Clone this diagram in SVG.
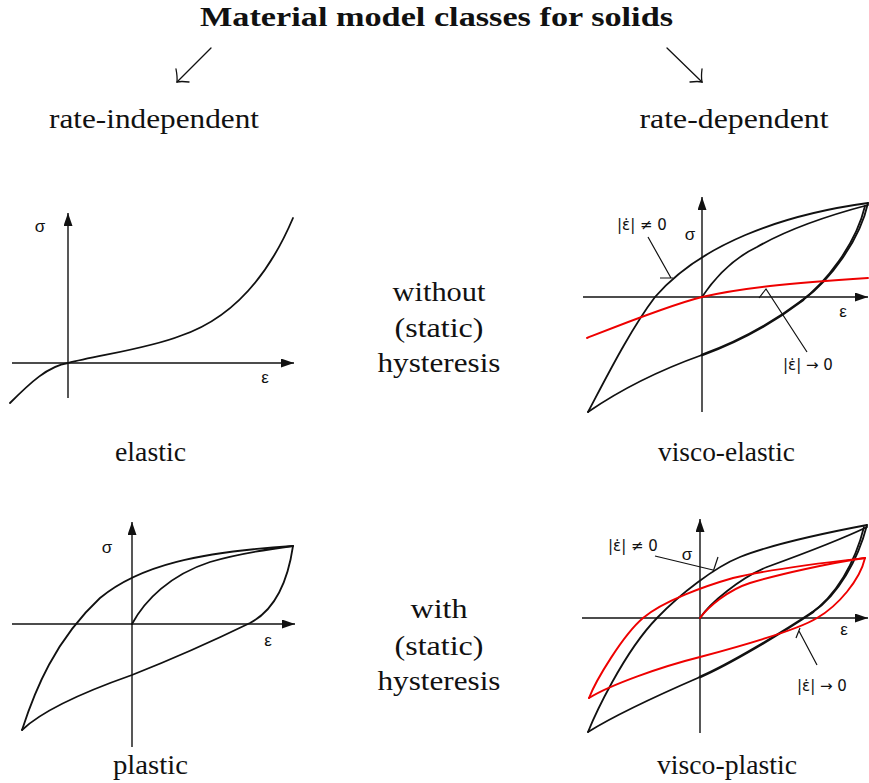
<svg xmlns="http://www.w3.org/2000/svg" width="869" height="783" viewBox="0 0 869 783">
<style>
.t{font-family:"Liberation Serif","Times New Roman",serif;font-size:27px;fill:#111;text-anchor:middle}
.tt{font-family:"Liberation Serif","Times New Roman",serif;font-size:27px;font-weight:bold;fill:#111}
.g{font-family:"Liberation Sans","DejaVu Sans",Arial,sans-serif;font-size:17px;fill:#111}
.gl{font-family:"DejaVu Sans","Liberation Sans",sans-serif;font-size:15px;fill:#111}
.ax{stroke:#111;stroke-width:1.4;fill:none}
.c{stroke:#111;stroke-width:1.8;fill:none;stroke-linejoin:round;stroke-linecap:round}
.ct{stroke:#111;stroke-width:2.6;fill:none;stroke-linecap:round}
.r{stroke:#ee0000;stroke-width:1.9;fill:none;stroke-linejoin:round;stroke-linecap:round}
.ld{stroke:#111;stroke-width:1.2;fill:none}
.ar{stroke:#111;stroke-width:1.3;fill:none;stroke-linecap:round}
</style>
<defs>
<marker id="ah" markerWidth="13" markerHeight="10" refX="13" refY="4.5" orient="auto" markerUnits="userSpaceOnUse">
<path d="M0,0 L13,4.5 L0,9 z" fill="#111"/>
</marker>
</defs>

<g id="title"><text class="tt" x="200" y="26" textLength="473" lengthAdjust="spacingAndGlyphs">Material model classes for solids</text></g>

<g id="connectors">
<path class="ar" d="M211,48 L177,82"/>
<path class="ar" d="M176,69 Q177.5,77 177,82 Q181,81 189,82"/>
<path class="ar" d="M667,48 L702,82"/>
<path class="ar" d="M702,69 Q701,77 702,82 Q698,81 690,82"/>
</g>

<g id="rate-independent"><text class="t" x="154" y="128" textLength="210" lengthAdjust="spacingAndGlyphs">rate-independent</text></g>
<g id="rate-dependent"><text class="t" x="734" y="128" textLength="189" lengthAdjust="spacingAndGlyphs">rate-dependent</text></g>

<g id="without">
<text class="t" x="439" y="301" textLength="93" lengthAdjust="spacingAndGlyphs">without</text>
<text class="t" x="439" y="337" textLength="89" lengthAdjust="spacingAndGlyphs">(static)</text>
<text class="t" x="439" y="372" textLength="123" lengthAdjust="spacingAndGlyphs">hysteresis</text>
</g>
<g id="with">
<text class="t" x="439" y="618" textLength="57" lengthAdjust="spacingAndGlyphs">with</text>
<text class="t" x="439" y="655" textLength="89" lengthAdjust="spacingAndGlyphs">(static)</text>
<text class="t" x="439" y="690" textLength="123" lengthAdjust="spacingAndGlyphs">hysteresis</text>
</g>

<g id="elastic">
<path class="ax" d="M68,398 L68,213" marker-end="url(#ah)"/>
<path class="ax" d="M12,363 L294,363" marker-end="url(#ah)"/>
<text class="g" x="40" y="232" text-anchor="middle">σ</text>
<text class="g" x="265" y="383" text-anchor="middle">ε</text>
<path class="c" d="M10,403 C30,383 48,366 68,363 C100,355 150,348 180,336 C225,321 265,284 293,218"/>
<text class="t" x="150.5" y="461" textLength="71" lengthAdjust="spacingAndGlyphs">elastic</text>
</g>

<g id="plastic">
<path class="ax" d="M132,747 L132,522" marker-end="url(#ah)"/>
<path class="ax" d="M12,624 L295,624" marker-end="url(#ah)"/>
<text class="g" x="107" y="553" text-anchor="middle">σ</text>
<text class="g" x="268" y="646" text-anchor="middle">ε</text>
<path class="c" d="M22,730 C35,690 55,640 100,598 C140,565 200,552 293,546"/>
<path class="c" d="M293,546 C288,580 275,610 250,623 C215,640 170,660 132,675 C95,688 45,708 22,730"/>
<path class="c" d="M132,624 C145,600 170,575 210,562 C240,553 270,549 293,546"/>
<text class="t" x="150.5" y="774" textLength="75" lengthAdjust="spacingAndGlyphs">plastic</text>
</g>

<g id="visco-elastic">
<path class="ax" d="M702,412 L702,197" marker-end="url(#ah)"/>
<path class="ax" d="M583,297 L868,297" marker-end="url(#ah)"/>
<text class="g" x="690" y="240" text-anchor="middle">σ</text>
<text class="g" x="843" y="317" text-anchor="middle">ε</text>
<path class="c" d="M588,412 C605,380 630,330 655,297 C700,245 780,215 868,203"/>
<path class="c" d="M868,203 C860,240 830,280 803,300"/>
<path class="c" d="M865,206 C856,244 826,283 800,302"/>
<path class="ct" d="M803,300 C770,325 735,343 702,355"/>
<path class="c" d="M702,355 C660,370 620,390 588,412"/>
<path class="c" d="M702,297 C712,282 730,260 757,247 C790,228 830,215 868,205"/>
<path class="r" d="M587,338 C620,325 670,305 702,297 C740,288 790,283 868,278"/>
<path class="ld" d="M648,237 L671,278 M660,278 L673,278"/>
<path class="ld" d="M807,352 L766,289 L759,298"/>
<text class="gl" x="617" y="230">|ε̇| ≠ 0</text>
<text class="gl" x="783" y="370">|ε̇| → 0</text>
<text class="t" x="726.5" y="461" textLength="137" lengthAdjust="spacingAndGlyphs">visco-elastic</text>
</g>

<g id="visco-plastic">
<path class="ax" d="M700,733 L700,519" marker-end="url(#ah)"/>
<path class="ax" d="M582,618 L868,618" marker-end="url(#ah)"/>
<text class="g" x="687" y="560" text-anchor="middle">σ</text>
<text class="g" x="844" y="635" text-anchor="middle">ε</text>
<path class="c" d="M588,732 C594,717 623,653 657,618 C680,594 715,567 740,557 C775,543 830,532 867,525"/>
<path class="c" d="M867,525 C858,560 838,595 813,612"/>
<path class="c" d="M864,527 C855,563 836,596 810,614"/>
<path class="ct" d="M813,612 C783,632 730,664 700,677"/>
<path class="c" d="M700,677 C670,690 620,712 588,732"/>
<path class="c" d="M700,618 C710,603 740,578 767,567 C800,555 840,540 867,527"/>
<path class="r" d="M589,698 C596,680 623,635 643,618 C663,601 705,586 733,578 C775,568 830,562 865,558"/>
<path class="r" d="M865,558 C860,580 838,606 817,618 C797,630.5 730,649 700,657 C660,667 610,685 589,698"/>
<path class="r" d="M700,618 C708,607 728,590 750,583 C780,574 830,563 865,558"/>
<path class="ld" d="M655,556 L713,570 M713,572 L718,557"/>
<path class="ld" d="M817,665 L799,631 M796,638 L800,628"/>
<text class="gl" x="608" y="551">|ε̇| ≠ 0</text>
<text class="gl" x="797" y="691">|ε̇| → 0</text>
<text class="t" x="727" y="774" textLength="140" lengthAdjust="spacingAndGlyphs">visco-plastic</text>
</g>
</svg>
